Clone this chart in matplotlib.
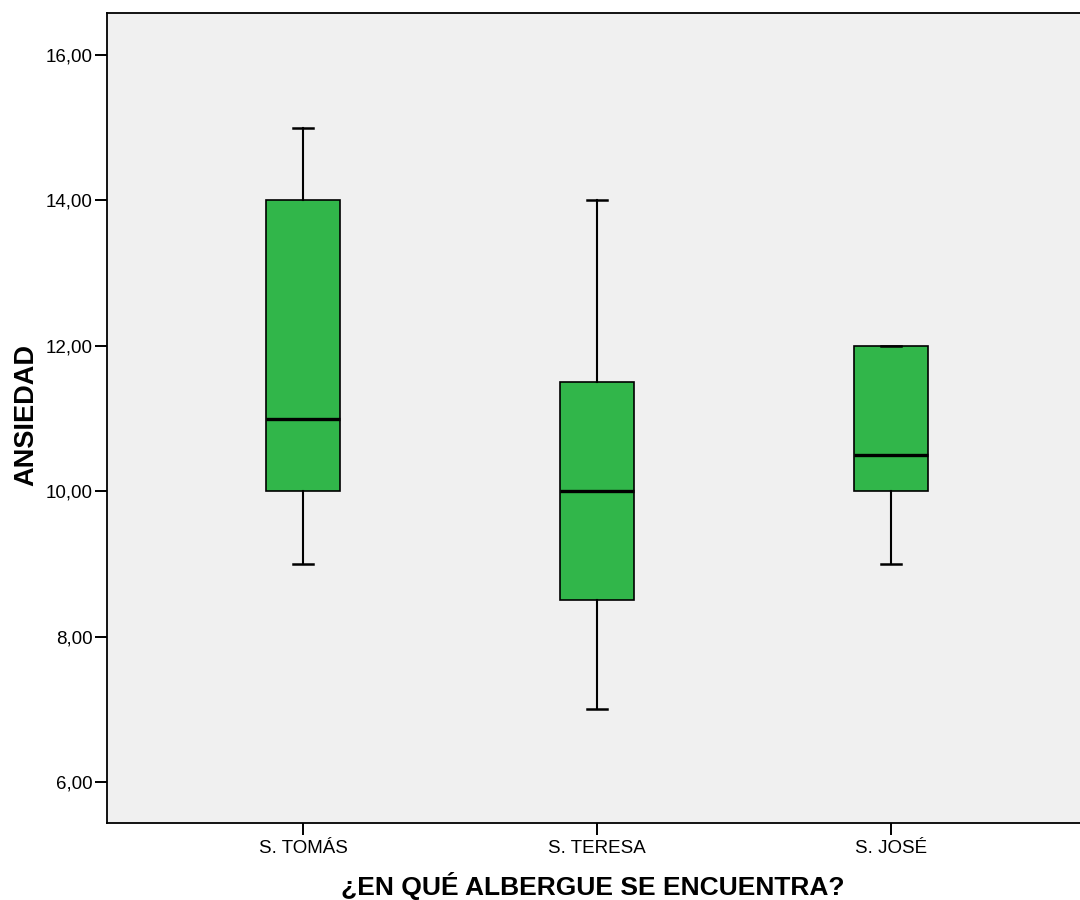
import matplotlib
matplotlib.use("Agg")
import matplotlib.pyplot as plt

plt.rcParams['font.family'] = ['Liberation Sans', 'DejaVu Sans']

# five-number summaries per shelter
albergues = ['S. TOMÁS', 'S. TERESA', 'S. JOSÉ']
minimo = [9.0, 7.0, 9.0]
q1 = [10.0, 8.5, 10.0]
mediana = [11.0, 10.0, 10.5]
q3 = [14.0, 11.5, 12.0]
maximo = [15.0, 14.0, 12.0]
yticks = [6, 8, 10, 12, 14, 16]

stats = []
for i in range(len(albergues)):
    stats.append({'label': albergues[i], 'whislo': minimo[i], 'q1': q1[i],
                  'med': mediana[i], 'q3': q3[i], 'whishi': maximo[i], 'fliers': []})

fig = plt.figure(figsize=(10.8, 9), dpi=100)
ax = fig.add_axes([107 / 1080, 1 - 823 / 900, 980 / 1080, 810 / 900])
ax.set_facecolor('#f0f0f0')

ax.bxp(stats, positions=[1, 2, 3], widths=0.255, capwidths=0.065,
       patch_artist=True, showfliers=False,
       boxprops=dict(facecolor='#31b64a', edgecolor='black', linewidth=1.2),
       medianprops=dict(color='black', linewidth=2.4),
       whiskerprops=dict(color='black', linewidth=1.5),
       capprops=dict(color='black', linewidth=1.8))

ax.set_xlim(1 / 3, 3 + 2 / 3)
ax.set_ylim(5.436, 16.578)
ax.set_yticks(yticks)
ax.set_yticklabels(['%d,00' % v for v in yticks])
ax.set_xticks([1, 2, 3])
ax.set_xticklabels(albergues)
ax.tick_params(axis='both', labelsize=13.5, length=8.5, width=1.4, color='black')
ax.tick_params(axis='y', pad=2)
ax.tick_params(axis='x', pad=4)

for s in ax.spines.values():
    s.set_linewidth(1.3)
ax.spines['right'].set_visible(False)

ax.set_ylabel('ANSIEDAD', fontsize=19.5, fontweight='bold')
ax.yaxis.set_label_coords(-0.069, 0.504)
ax.set_xlabel('¿EN QUÉ ALBERGUE SE ENCUENTRA?', fontsize=19, fontweight='bold')
ax.xaxis.set_label_coords(486 / 980, -0.060)

fig.savefig('out.png', dpi=100)
